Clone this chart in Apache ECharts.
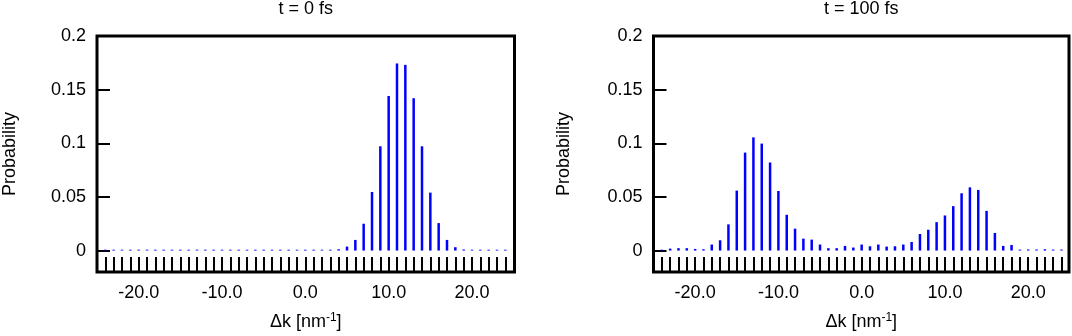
<!DOCTYPE html>
<html>
<head>
<meta charset="utf-8">
<script src="https://cdn.jsdelivr.net/npm/echarts@6/dist/echarts.min.js"></script>
<style>
html,body{margin:0;padding:0;background:#fff;}
#chart{width:1072px;height:336px;}
</style>
</head>
<body>
<div id="chart"></div>
<script>
// Δk grid points (nm^-1)
const kValues = [-24,-23,-22,-21,-20,-19,-18,-17,-16,-15,-14,-13,-12,-11,-10,-9,-8,-7,-6,-5,-4,-3,-2,-1,0,
  1,2,3,4,5,6,7,8,9,10,11,12,13,14,15,16,17,18,19,20,21,22,23,24];

// Probability at t = 0 fs
const probT0 = [0.0008,0.0008,0.0008,0.0008,0.0008,0.0008,0.0008,0.0008,0.0008,0.0008,
  0.0008,0.0008,0.0008,0.0008,0.0008,0.0008,0.0008,0.0008,0.0008,0.0008,
  0.0008,0.0008,0.0008,0.0008,0.0008,0.0008,0.0008,0.0008,
  0.0012,0.0037,0.0099,0.0250,0.0546,0.0972,0.1441,0.1744,0.1731,0.1420,0.0972,0.0540,0.0256,0.0099,0.0031,0.0010,
  0.0008,0.0008,0.0008,0.0008,0.0008];

// Probability at t = 100 fs
const probT100 = [0.0008,0.0018,0.0022,0.0022,0.0015,0.0012,0.0056,0.0096,0.0244,0.0559,
  0.0913,0.1055,0.0997,0.0821,0.0555,0.0333,0.0204,0.0111,0.0102,0.0056,
  0.0022,0.0022,0.0043,0.0028,0.0056,0.0040,0.0056,0.0037,0.0040,0.0056,
  0.0080,0.0154,0.0194,0.0265,0.0327,0.0414,0.0534,0.0589,0.0565,0.0370,
  0.0164,0.0043,0.0052,0.0009,0.0010,0.0010,0.0012,0.0009,0.0009];

const titles = ['t = 0 fs', 't = 100 fs'];
const yTickValues = [0, 0.05, 0.1, 0.15, 0.2];
const xLabelValues = [-20, -10, 0, 10, 20];

const FONT = 'Liberation Sans, Arial, sans-serif';
const chart = echarts.init(document.getElementById('chart'), null, {renderer: 'canvas'});

const grids = [
  {left: 97, top: 36, width: 417.5, height: 240},
  {left: 653.5, top: 36, width: 415.5, height: 240}
];
const xRanges = [[-25, 25.1], [-25, 24.9]];
const yNameGaps = [78, 80];

function xAxis(i) {
  return {
    type: 'value', gridIndex: i, min: xRanges[i][0], max: xRanges[i][1],
    position: 'bottom',
    axisLine: {show: false, onZero: false},
    splitLine: {show: false},
    axisTick: {show: true, inside: true, length: 15, customValues: kValues,
      lineStyle: {color: '#000', width: 2}},
    axisLabel: {show: true, customValues: xLabelValues, margin: 12, color: '#000',
      fontFamily: FONT, fontSize: 18, formatter: v => Number(v).toFixed(1)},
    name: '{a|Δk [nm}{s|-1}{a|]}',
    nameLocation: 'middle', nameGap: 40,
    nameTextStyle: {
      color: '#000', fontFamily: FONT, fontSize: 18,
      rich: {
        a: {fontFamily: FONT, fontSize: 18, color: '#000', lineHeight: 20},
        s: {fontFamily: FONT, fontSize: 12, color: '#000', lineHeight: 20, verticalAlign: 'top'}
      }
    }
  };
}
function yAxis(i) {
  return {
    type: 'value', gridIndex: i, min: -0.02, max: 0.2,
    position: 'left',
    axisLine: {show: false, onZero: false},
    splitLine: {show: false},
    axisTick: {show: true, inside: true, length: 13, customValues: yTickValues,
      lineStyle: {color: '#000', width: 2}},
    axisLabel: {show: true, customValues: yTickValues, margin: 11, color: '#000',
      fontFamily: FONT, fontSize: 18, formatter: v => String(Number(v))},
    name: 'Probability', nameLocation: 'middle', nameGap: yNameGaps[i],
    nameTextStyle: {color: '#000', fontFamily: FONT, fontSize: 18}
  };
}

const datasets = [probT0, probT100];
const option = {
  animation: false,
  backgroundColor: '#fff',
  title: titles.map((t, i) => ({
    text: t,
    left: grids[i].left + grids[i].width / 2,
    top: 0,
    textAlign: 'center',
    padding: 0,
    textStyle: {color: '#000', fontFamily: FONT, fontSize: 18, fontWeight: 'normal'}
  })),
  grid: grids.map(g => Object.assign({show: true, borderColor: '#000', borderWidth: 3,
    backgroundColor: 'transparent', containLabel: false}, g)),
  xAxis: [xAxis(0), xAxis(1)],
  yAxis: [yAxis(0), yAxis(1)],
  series: datasets.map((d, i) => ({
    type: 'bar', xAxisIndex: i, yAxisIndex: i,
    data: kValues.map((k, j) => [k, d[j]]),
    barWidth: 2.5,
    itemStyle: {color: '#0000ff'},
    silent: true
  }))
};
chart.setOption(option);
</script>
</body>
</html>
